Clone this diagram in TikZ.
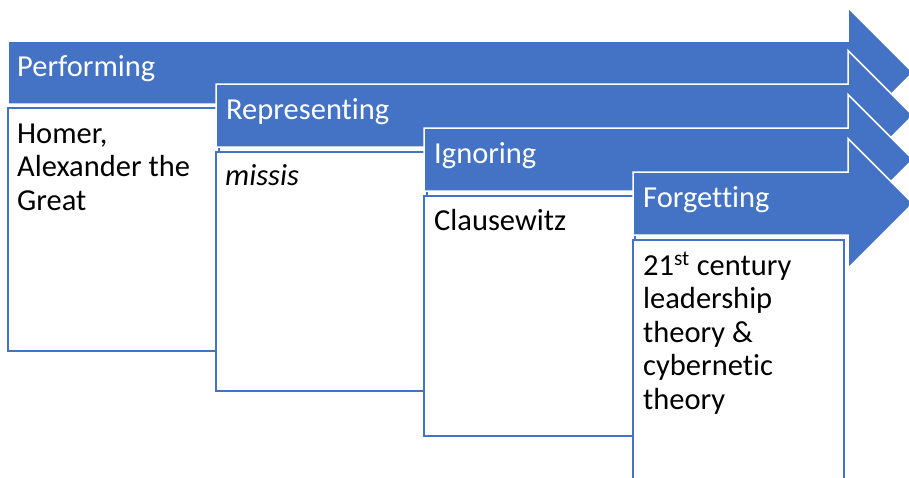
\documentclass[tikz,border=0pt]{standalone}
\usepackage{fontspec}
\setmainfont{Carlito}[Ligatures=NoCommon]
\definecolor{accent}{HTML}{4472C4}
\begin{document}
\begin{tikzpicture}[x=1pt,y=-1pt,
  arrowshape/.style={fill=accent,draw=white,line width=1.5pt,line join=miter},
  boxshape/.style={fill=white,draw=accent,line width=2pt},
  headtxt/.style={anchor=base west,text=white,font=\fontsize{30.5}{34}\selectfont,inner sep=0pt},
  bodytxt/.style={anchor=base west,text=black,font=\fontsize{30.5}{33.5}\selectfont,inner sep=0pt,align=left}]
\useasboundingbox (0,0) rectangle (909,477);
\clip (0,0) rectangle (909,477);
% arrow 1 and box 1
\draw[arrowshape] (8,41) -- (848,41) -- (848,7.5) -- (913,72.5) -- (848,137.5) -- (848,104) -- (8,104) -- cycle;
\draw[boxshape] (8,108) rectangle (219,351);
% arrow 2 and box 2
\draw[arrowshape] (216,84) -- (848,84) -- (848,50.5) -- (913,115.5) -- (848,180.5) -- (848,147) -- (216,147) -- cycle;
\draw[boxshape] (216,152) rectangle (427,391);
% arrow 3 and box 3
\draw[arrowshape] (424,128) -- (848,128) -- (848,94.5) -- (913,159.5) -- (848,224.5) -- (848,191) -- (424,191) -- cycle;
\draw[boxshape] (424,196) rectangle (635,436);
% arrow 4 and box 4
\draw[arrowshape] (633,172) -- (848,172) -- (848,138.5) -- (913,203.5) -- (848,268.5) -- (848,235) -- (633,235) -- cycle;
\draw[boxshape] (633,240) rectangle (844,485);
% texts
\node[headtxt] (t1) at (17,76) {Performing};
\node[headtxt] (t2) at (226,119) {Representing};
\node[headtxt] (t3) at (434,163) {Ignoring};
\node[headtxt] (t4) at (643,207) {Forgetting};
\node[bodytxt] (b1) at (17,210) {Homer,\\Alexander the\\Great};
\node[bodytxt] (b2) at (225,185) {\itshape missis};
\node[bodytxt] (b3) at (434,230) {Clausewitz};
\node[bodytxt] (b4) at (643,409) {21\textsuperscript{st} century\\leadership\\theory \&\\cybernetic\\theory};
\end{tikzpicture}
\end{document}
